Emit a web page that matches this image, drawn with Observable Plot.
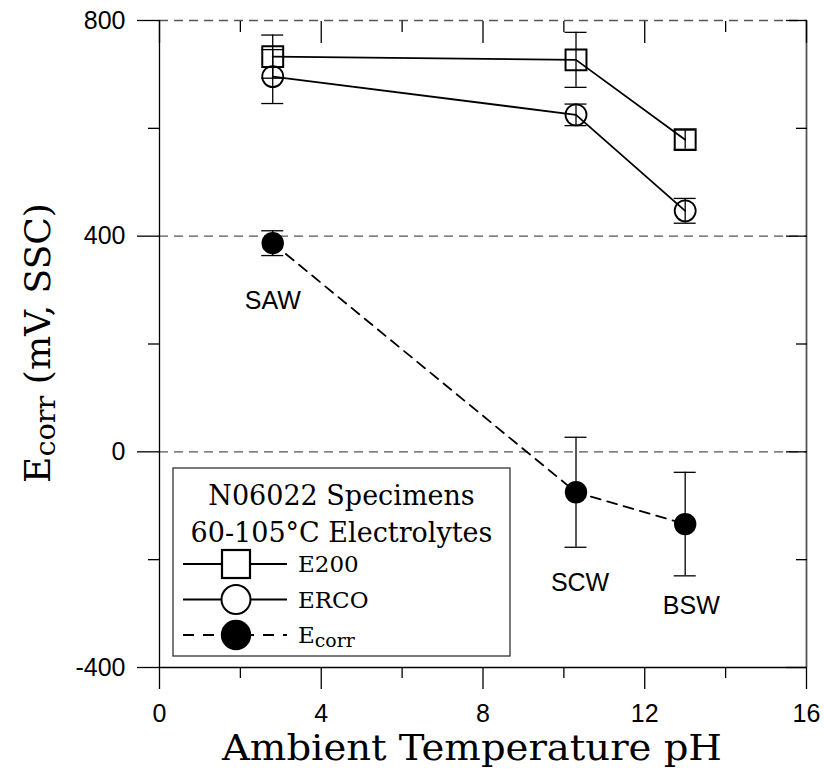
<!DOCTYPE html>
<html><head><meta charset="utf-8">
<script src="https://cdn.jsdelivr.net/npm/d3@7"></script>
<script src="https://cdn.jsdelivr.net/npm/@observablehq/plot@0.6"></script>
<style>body{margin:0;background:#fff}#chart{width:824px;height:774px}</style>
</head><body><div id="chart"></div>
<script>
// ---- data ----
const sites = ["SAW", "SCW", "BSW"];
const pH = [2.8, 10.3, 13.0];
const e200 = [733, 727, 579];
const e200Err = [40, 51, 18];
const erco = [696, 625, 447];
const ercoErr = [50, 20, 23];
const ecorr = [387, -75, -134];
const ecorrErr = [23, 102, 96];
const labelX = [2.8, 10.4, 13.15];
const labelY = [280, -243, -286];
const xMajor = [0, 4, 8, 12, 16];
const xMinor = [2, 6, 10, 14];
const yMajor = [800, 400, 0, -400];
const yMinor = [600, 200, -200];
const gridY = [800, 400, 0];
const legendTitle = ["N06022 Specimens", "60-105°C Electrolytes"];
const seriesNames = ["E200", "ERCO", "E"];
const xTitle = "Ambient Temperature pH";

const rows = (vals, errs) => pH.map((x, i) => ({x, y: vals[i], lo: vals[i] - errs[i], hi: vals[i] + errs[i], site: sites[i]}));
const dE200 = rows(e200, e200Err);
const dErco = rows(erco, ercoErr);
const dEcorr = rows(ecorr, ecorrErr);

const SANS = "'Liberation Sans', Arial, sans-serif";
const SERIF = "'DejaVu Serif', serif";

function errorMarks(d) {
  return [
    Plot.ruleX(d, {x: "x", y1: "lo", y2: "hi", stroke: "black", strokeWidth: 1.3}),
    Plot.ruleY(d, {y: "hi", x1: "x", x2: "x", insetLeft: -11, insetRight: -11, stroke: "black", strokeWidth: 1.3}),
    Plot.ruleY(d, {y: "lo", x1: "x", x2: "x", insetLeft: -11, insetRight: -11, stroke: "black", strokeWidth: 1.3})
  ];
}

const chart = Plot.plot({
  width: 824,
  height: 774,
  marginLeft: 159,
  marginRight: 18,
  marginTop: 20,
  marginBottom: 107,
  style: {fontFamily: SANS, fontSize: "25px", background: "white", overflow: "visible"},
  x: {domain: [0, 16], axis: null},
  y: {domain: [-400, 800], axis: null},
  marks: [
    Plot.ruleY(gridY, {stroke: "#555", strokeWidth: 1.3, strokeDasharray: "9,6"}),
    Plot.ruleX([0], {stroke: "black", strokeWidth: 1.3}),
    Plot.ruleX([16], {stroke: "#555", strokeWidth: 1.8}),
    Plot.ruleY([-400], {stroke: "black", strokeWidth: 1.3}),
    // axes: left (outward), right (inward), bottom (outward), top (inward)
    Plot.axisY({anchor: "left", ticks: yMajor, tickSize: 22, tickPadding: 12, tickFormat: d => String(d), label: null, strokeWidth: 1.3, fontSize: 25}),
    Plot.axisY({anchor: "left", ticks: yMinor, tickSize: 11, text: null, label: null, strokeWidth: 1.3}),
    Plot.axisY({anchor: "right", ticks: yMajor, tickSize: 21, dx: -21, text: null, label: null, strokeWidth: 1.3}),
    Plot.axisY({anchor: "right", ticks: yMinor, tickSize: 11, dx: -11, text: null, label: null, strokeWidth: 1.3}),
    Plot.axisX({anchor: "bottom", ticks: xMajor, tickSize: 22, tickPadding: 15, tickFormat: d => String(d), label: null, strokeWidth: 1.3, fontSize: 25}),
    Plot.axisX({anchor: "bottom", ticks: xMinor, tickSize: 11, text: null, label: null, strokeWidth: 1.3}),
    Plot.axisX({anchor: "top", ticks: xMajor, tickSize: 22, dy: 22, text: null, label: null, strokeWidth: 1.3}),
    Plot.axisX({anchor: "top", ticks: xMinor, tickSize: 11, dy: 11, text: null, label: null, strokeWidth: 1.3}),
    // error bars
    ...errorMarks(dE200),
    ...errorMarks(dErco),
    ...errorMarks(dEcorr),
    // lines
    Plot.line(dE200, {x: "x", y: "y", stroke: "black", strokeWidth: 1.8}),
    Plot.line(dErco, {x: "x", y: "y", stroke: "black", strokeWidth: 1.8}),
    Plot.line(dEcorr, {x: "x", y: "y", stroke: "black", strokeWidth: 1.8, strokeDasharray: "10,7"}),
    // markers
    Plot.dot(dE200, {x: "x", y: "y", symbol: "square", r: 11.8, stroke: "black", strokeWidth: 2, fill: "none"}),
    Plot.dot(dErco, {x: "x", y: "y", symbol: "circle", r: 10.5, stroke: "black", strokeWidth: 1.8, fill: "none"}),
    Plot.dot(dEcorr, {x: "x", y: "y", symbol: "circle", r: 11.2, fill: "black", stroke: "none"}),
    // site labels
    Plot.text(sites, {x: (d, i) => labelX[i], y: (d, i) => labelY[i], text: d => d, fontSize: 25, fontFamily: SANS, fill: "black"})
  ]
});

document.getElementById("chart").appendChild(chart);
const svg = d3.select(chart);

// X title
svg.append("text")
  .attr("x", 472).attr("y", 760)
  .attr("text-anchor", "middle")
  .attr("font-family", SERIF).attr("font-size", 35)
  .attr("textLength", 500).attr("lengthAdjust", "spacingAndGlyphs")
  .attr("fill", "black")
  .text(xTitle);

// Y title with subscript
const yt = svg.append("text")
  .attr("transform", "translate(50,343) rotate(-90)")
  .attr("text-anchor", "middle")
  .attr("font-family", SERIF).attr("font-size", 36)
  .attr("fill", "black");
yt.append("tspan").text("E");
yt.append("tspan").attr("font-size", "0.8em").attr("dy", "0.18em").text("corr");
yt.append("tspan").attr("dy", "-0.15em").text(" (mV, SSC)");

// Legend
const lg = svg.append("g").attr("font-family", SERIF).attr("fill", "black");
lg.append("rect").attr("x", 173).attr("y", 468).attr("width", 337).attr("height", 188)
  .attr("fill", "white").attr("stroke", "#333").attr("stroke-width", 1.3);
legendTitle.forEach((t, i) => {
  lg.append("text").attr("x", 341.5).attr("y", 505 + i * 36.5)
    .attr("text-anchor", "middle").attr("font-size", 27).text(t);
});
const rowY0 = 564, rowStep = 35.5;
seriesNames.forEach((name, i) => {
  const cy = rowY0 + i * rowStep;
  lg.append("line").attr("x1", 183).attr("x2", 287).attr("y1", cy).attr("y2", cy)
    .attr("stroke", "black").attr("stroke-width", 1.8)
    .attr("stroke-dasharray", i === 2 ? "11,9" : null);
  if (i === 0) {
    lg.append("rect").attr("x", 236 - 14).attr("y", cy - 14).attr("width", 28).attr("height", 28)
      .attr("fill", "white").attr("stroke", "black").attr("stroke-width", 2.2);
  } else if (i === 1) {
    lg.append("circle").attr("cx", 236).attr("cy", cy).attr("r", 14.5)
      .attr("fill", "white").attr("stroke", "black").attr("stroke-width", 2);
  } else {
    lg.append("circle").attr("cx", 236).attr("cy", cy).attr("r", 15.2).attr("fill", "black");
  }
  const t = lg.append("text").attr("x", 298).attr("y", cy + 8).attr("font-size", 23)
    .attr("text-anchor", "start");
  t.append("tspan").text(name);
  if (i === 2) t.append("tspan").attr("font-size", "0.82em").attr("dy", "0.2em").text("corr");
});
</script>
</body></html>
